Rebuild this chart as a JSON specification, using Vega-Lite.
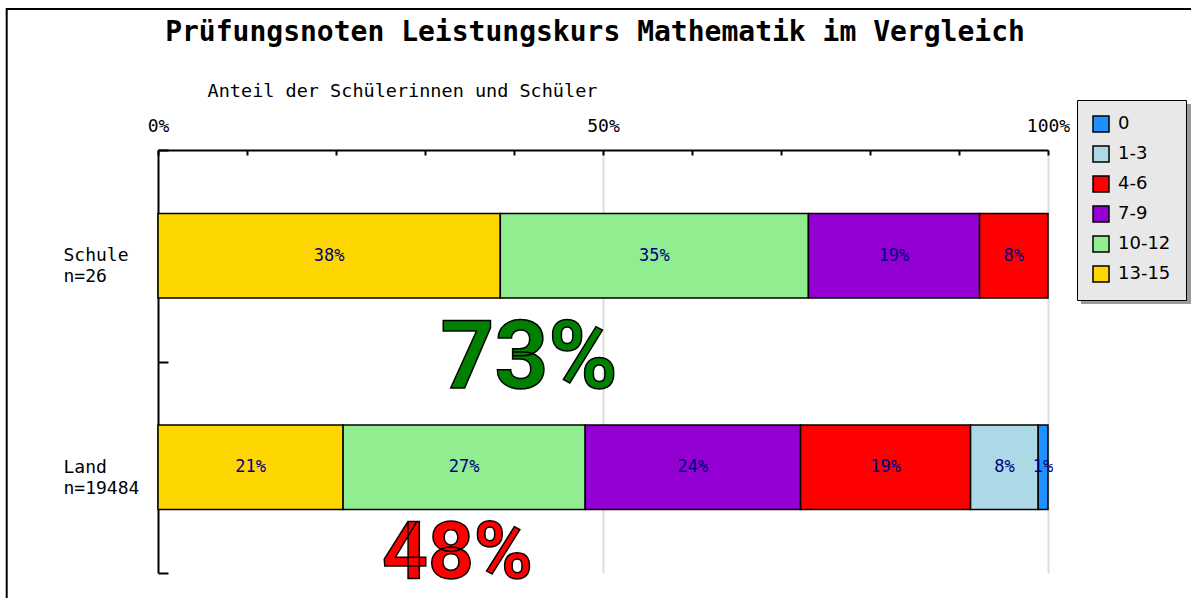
{
  "$schema": "https://vega.github.io/schema/vega-lite/v6.json",
  "width": 890,
  "height": 423,
  "autosize": {"type": "none"},
  "padding": {"left": 158, "top": 150, "right": 143, "bottom": 25},
  "background": "white",
  "title": {
    "text": "Prüfungsnoten Leistungskurs Mathematik im Vergleich",
    "font": "DejaVu Sans Mono",
    "fontSize": 28,
    "fontWeight": "bold",
    "color": "black",
    "anchor": "middle",
    "dx": -8,
    "dy": 43
  },
  "config": {"view": {"stroke": null}},
  "layer": [
    {
      "data": {"values": [{"k": 1}]},
      "layer": [
        {
          "mark": {"type": "rect", "filled": false, "stroke": "black", "strokeWidth": 2, "clip": false},
          "encoding": {
            "x": {"datum": -17, "type": "quantitative", "scale": {"domain": [0, 100], "nice": false}},
            "x2": {"datum": 250},
            "y": {"datum": -0.2, "type": "quantitative", "scale": {"domain": [0, 1], "nice": false, "zero": false}, "axis": null},
            "y2": {"datum": 1.3333}
          }
        },
        {
          "mark": {"type": "rect", "fill": "#9a9a9a", "clip": false},
          "encoding": {
            "x": {"datum": 103.7, "type": "quantitative", "scale": {"domain": [0, 100], "nice": false}},
            "x2": {"datum": 116.07},
            "y": {"datum": 0.636, "type": "quantitative", "scale": {"domain": [0, 1], "nice": false, "zero": false}, "axis": null},
            "y2": {"datum": 1.1087}
          }
        }
      ]
    },
    {
      "data": {
        "values": [
          {"cat": "Schule", "grade": "13-15", "rank": 1, "pct": 38.46, "label": "38%"},
          {"cat": "Schule", "grade": "10-12", "rank": 2, "pct": 34.62, "label": "35%"},
          {"cat": "Schule", "grade": "7-9", "rank": 3, "pct": 19.23, "label": "19%"},
          {"cat": "Schule", "grade": "4-6", "rank": 4, "pct": 7.69, "label": "8%"},
          {"cat": "Land", "grade": "13-15", "rank": 1, "pct": 20.8, "label": "21%"},
          {"cat": "Land", "grade": "10-12", "rank": 2, "pct": 27.2, "label": "27%"},
          {"cat": "Land", "grade": "7-9", "rank": 3, "pct": 24.2, "label": "24%"},
          {"cat": "Land", "grade": "4-6", "rank": 4, "pct": 19.1, "label": "19%"},
          {"cat": "Land", "grade": "1-3", "rank": 5, "pct": 7.6, "label": "8%"},
          {"cat": "Land", "grade": "0", "rank": 6, "pct": 1.1, "label": "1%"}
        ]
      },
      "resolve": {"scale": {"y": "shared"}, "axis": {"y": "shared"}},
      "layer": [
        {
          "mark": {"type": "bar", "height": {"band": 0.4}, "stroke": "black", "strokeWidth": 1.5},
          "encoding": {
            "y": {
              "field": "cat", "type": "nominal",
              "scale": {"type": "band", "domain": ["Schule", "Land"], "paddingInner": 0, "paddingOuter": 0},
              "axis": {
                "orient": "left", "title": null,
                "labelExpr": "datum.label === '' ? '' : datum.value === 'Schule' ? ['Schule', 'n=26'] : datum.value === 'Land' ? ['Land', 'n=19484'] : ''",
                "labelFont": "DejaVu Sans Mono", "labelFontSize": 18, "labelColor": "black",
                "labelAlign": "left", "labelLineHeight": 21, "labelPadding": 105,
                "tickBand": "extent", "tickSize": -10, "tickColor": "black", "tickWidth": 2,
                "domainColor": "black", "domainWidth": 2, "grid": false
              }
            },
            "x": {
              "field": "pct", "type": "quantitative", "stack": "zero",
              "scale": {"domain": [0, 100], "nice": false},
              "axis": {
                "orient": "top",
                "values": [0, 10, 20, 30, 40, 50, 60, 70, 80, 90, 100],
                "labelExpr": "datum.value % 50 === 0 ? datum.value + '%' : ''",
                "labelFlush": false, "labelOverlap": false,
                "labelFont": "DejaVu Sans Mono", "labelFontSize": 18, "labelColor": "black", "labelPadding": 20,
                "title": "Anteil der Schülerinnen und Schüler",
                "titleX": 244, "titleY": -60, "titleAlign": "center", "titleBaseline": "middle",
                "titleFont": "DejaVu Sans Mono", "titleFontSize": 18.5, "titleFontWeight": "normal", "titleColor": "black",
                "tickSize": -5, "tickColor": "black", "tickWidth": 2,
                "domainColor": "black", "domainWidth": 2,
                "grid": true, "gridColor": "#dddddd", "gridWidth": 2,
                "gridOpacity": {"condition": {"test": "datum.value === 50 || datum.value === 100", "value": 1}, "value": 0}
              }
            },
            "color": {
              "field": "grade", "type": "nominal",
              "scale": {
                "domain": ["0", "1-3", "4-6", "7-9", "10-12", "13-15"],
                "range": ["#1e90ff", "#add8e6", "#ff0000", "#9400d3", "#90ee90", "#ffd700"]
              },
              "legend": {
                "title": null, "orient": "none", "legendX": 919, "legendY": -50, "direction": "vertical",
                "symbolType": "square", "symbolSize": 256, "symbolStrokeColor": "black", "symbolStrokeWidth": 1.5,
                "labelFont": "DejaVu Sans", "labelFontSize": 18, "labelColor": "black", "labelOffset": 8,
                "rowPadding": 8, "padding": 15, "fillColor": "#e8e8e8", "strokeColor": "black"
              }
            },
            "order": {"field": "rank"}
          }
        },
        {
          "mark": {"type": "text", "font": "DejaVu Sans Mono", "fontSize": 17, "fill": "#000080", "align": "center", "baseline": "middle"},
          "encoding": {
            "y": {"field": "cat", "type": "nominal", "scale": {"type": "band", "domain": ["Schule", "Land"], "paddingInner": 0, "paddingOuter": 0}},
            "x": {"field": "pct", "type": "quantitative", "stack": "zero", "bandPosition": 0.5, "scale": {"domain": [0, 100], "nice": false}},
            "detail": {"field": "grade"},
            "order": {"field": "rank"},
            "text": {"field": "label"}
          }
        },
        {
          "data": {"values": [{"cat": "Land", "pos": 41.7, "label": "73%"}]},
          "mark": {"type": "text", "font": "Roboto", "fontWeight": "bold", "fontSize": 94, "fill": "#008000", "stroke": "black", "strokeWidth": 1.5, "align": "center", "baseline": "alphabetic"},
          "encoding": {
            "x": {"field": "pos", "type": "quantitative", "scale": {"domain": [0, 100], "nice": false}},
            "y": {"field": "cat", "type": "nominal", "bandPosition": 0.125, "scale": {"type": "band", "domain": ["Schule", "Land"], "paddingInner": 0, "paddingOuter": 0}},
            "text": {"field": "label"}
          }
        },
        {
          "data": {"values": [{"cat": "Land", "pos": 33.65, "label": "48%"}]},
          "mark": {"type": "text", "font": "Roboto", "fontWeight": "bold", "fontSize": 80, "fill": "#ff0000", "stroke": "black", "strokeWidth": 1.5, "align": "center", "baseline": "alphabetic"},
          "encoding": {
            "x": {"field": "pos", "type": "quantitative", "scale": {"domain": [0, 100], "nice": false}},
            "y": {"field": "cat", "type": "nominal", "bandPosition": 1.024, "scale": {"type": "band", "domain": ["Schule", "Land"], "paddingInner": 0, "paddingOuter": 0}},
            "text": {"field": "label"}
          }
        }
      ]
    }
  ],
  "resolve": {"scale": {"y": "independent"}}
}
